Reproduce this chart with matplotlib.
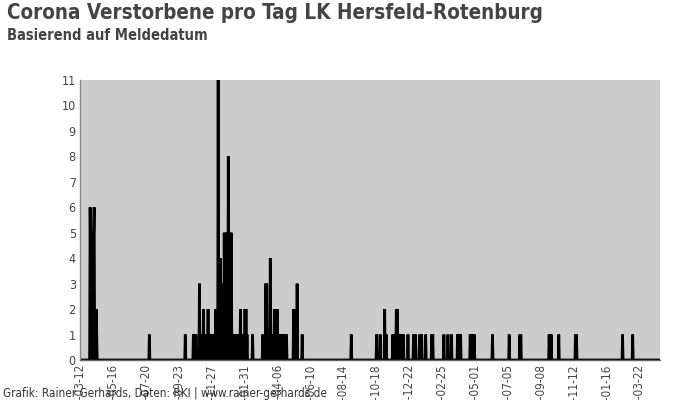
import numpy as np
import pandas as pd
import matplotlib
matplotlib.use("Agg")
import matplotlib.pyplot as plt
import matplotlib.dates as mdates

# Tage mit Todesfällen (alle übrigen Tage = 0)
START = "2020-03-12"
END = "2023-05-02"

death_dates = [
    "2020-04-01", "2020-04-02", "2020-04-03", "2020-04-04", "2020-04-05", "2020-04-06",
    "2020-04-07", "2020-04-08", "2020-04-09", "2020-04-11", "2020-04-13", "2020-04-14",
    "2020-07-27",
    "2020-10-06", "2020-10-22", "2020-10-24", "2020-10-27",
    "2020-11-03", "2020-11-05", "2020-11-07", "2020-11-11", "2020-11-13", "2020-11-15",
    "2020-11-17", "2020-11-20", "2020-11-22", "2020-11-24", "2020-11-26", "2020-11-28",
    "2020-11-30",
    "2020-12-03", "2020-12-05", "2020-12-08", "2020-12-10", "2020-12-12", "2020-12-14",
    "2020-12-16", "2020-12-18", "2020-12-20", "2020-12-22", "2020-12-24", "2020-12-26",
    "2020-12-28", "2020-12-30",
    "2021-01-01", "2021-01-03", "2021-01-05", "2021-01-08", "2021-01-10", "2021-01-12",
    "2021-01-14", "2021-01-17", "2021-01-20", "2021-01-23", "2021-01-26", "2021-01-29",
    "2021-02-01", "2021-02-03", "2021-02-05", "2021-02-16",
    "2021-03-08", "2021-03-14", "2021-03-16", "2021-03-23", "2021-03-25", "2021-03-27",
    "2021-03-29", "2021-03-31",
    "2021-04-02", "2021-04-04", "2021-04-06", "2021-04-09", "2021-04-12", "2021-04-15",
    "2021-04-18", "2021-04-21", "2021-04-24",
    "2021-05-08", "2021-05-10", "2021-05-12", "2021-05-15", "2021-05-25",
    "2021-08-30",
    "2021-10-19", "2021-10-26",
    "2021-11-04", "2021-11-07", "2021-11-20", "2021-11-22", "2021-11-24", "2021-11-27",
    "2021-11-29",
    "2021-12-01", "2021-12-03", "2021-12-05", "2021-12-07", "2021-12-09", "2021-12-11",
    "2021-12-20", "2021-12-31",
    "2022-01-02", "2022-01-04", "2022-01-12", "2022-01-14", "2022-01-16", "2022-01-24",
    "2022-02-05", "2022-02-07",
    "2022-03-01", "2022-03-09", "2022-03-16", "2022-03-28", "2022-03-30",
    "2022-04-01", "2022-04-03", "2022-04-22", "2022-04-24", "2022-04-26", "2022-04-28",
    "2022-04-30",
    "2022-06-05", "2022-07-08", "2022-07-29", "2022-07-31",
    "2022-09-25", "2022-09-27", "2022-09-29", "2022-10-14",
    "2022-11-16", "2022-11-18",
    "2023-02-17", "2023-03-09",
]
death_values = [
    6, 4, 5, 4, 5, 4,
    5, 5, 6, 2, 2, 1,
    1,
    1, 1, 1, 1,
    3, 1, 1, 2, 1, 1,
    1, 2, 1, 1, 1, 1,
    1,
    1, 2, 1, 11, 3, 4,
    3, 3, 2, 5, 3, 5,
    4, 8,
    5, 4, 5, 1, 1, 1,
    1, 1, 1, 2, 1, 1,
    2, 2, 1, 1,
    1, 3, 3, 4, 1, 1,
    1, 2,
    2, 2, 2, 1, 1, 1,
    1, 1, 1,
    2, 2, 2, 3, 1,
    1,
    1, 1,
    2, 1, 1, 1, 1, 2,
    2,
    1, 1, 1, 1, 1, 1,
    1, 1,
    1, 1, 1, 1, 1, 1,
    1, 1,
    1, 1, 1, 1, 1,
    1, 1, 1, 1, 1, 1,
    1,
    1, 1, 1, 1,
    1, 1, 1, 1,
    1, 1,
    1, 1,
]

tick_dates = pd.date_range(START, periods=18, freq="65D")

# -------- Tagesreihe aufbauen --------
days = pd.date_range(START, END, freq="D")
series = pd.Series(0, index=days, dtype=float)
series.loc[pd.to_datetime(death_dates)] = death_values

fig = plt.figure(figsize=(7, 4), dpi=100)
ax = fig.add_axes([80 / 700, 40 / 400, 580 / 700, 280 / 400])
ax.set_facecolor("#cccccc")

ax.fill_between(series.index, series.values, 0, color="black", lw=0)
ax.plot(series.index, series.values, color="black", lw=2.0, solid_joinstyle="bevel")

ax.set_xlim(pd.Timestamp(START), pd.Timestamp(END))
ax.set_ylim(0, 11)
ax.set_yticks(range(0, 12))
ax.tick_params(axis="y", length=0, labelsize=9, labelcolor="#444444", pad=3)

ax.set_xticks(tick_dates)
ax.xaxis.set_major_formatter(mdates.DateFormatter("%Y-%m-%d"))
ax.tick_params(axis="x", length=2, color="white", labelsize=8.5, labelcolor="#444444",
               rotation=90, pad=1)

for lab in ax.get_xticklabels() + ax.get_yticklabels():
    lab.set_fontstretch("condensed")

for side in ["top", "right"]:
    ax.spines[side].set_visible(False)
ax.spines["left"].set_color("#888888")
ax.spines["left"].set_linewidth(1)
ax.spines["bottom"].set_color("#666666")
ax.spines["bottom"].set_linewidth(1)

fig.text(7 / 700, 1 - 13 / 400, "Corona Verstorbene pro Tag LK Hersfeld-Rotenburg",
         fontsize=14.8, fontweight="bold", fontstretch="condensed", color="#444444",
         va="center", ha="left")
fig.text(7 / 700, 1 - 35 / 400, "Basierend auf Meldedatum",
         fontsize=10.5, fontweight="bold", fontstretch="condensed", color="#444444",
         va="center", ha="left")
fig.text(3 / 700, 1 - 393 / 400, "Grafik: Rainer Gerhards, Daten: RKI | www.rainer-gerhards.de",
         fontsize=8.4, fontstretch="condensed", color="#333333", va="center", ha="left",
         zorder=0)

fig.savefig("out.png", dpi=100)
